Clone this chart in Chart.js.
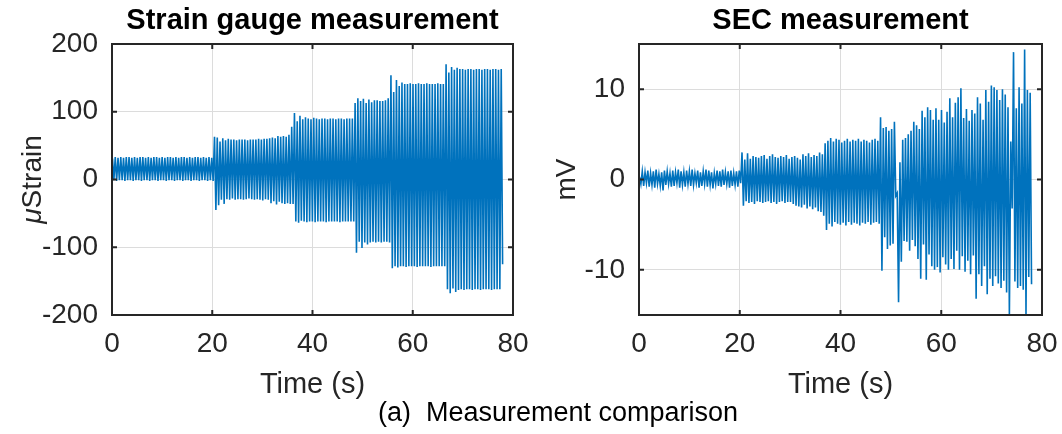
<!DOCTYPE html>
<html>
<head>
<meta charset="utf-8">
<script src="https://cdn.jsdelivr.net/npm/chart.js@4.4.1/dist/chart.umd.min.js"></script>
<style>
    body { margin: 0; background: #fff; width: 1062px; height: 434px; position: relative; overflow: hidden; }
    canvas { position: absolute; top: 0; }
    #strainChart { left: 0; }
    #secChart { left: 530px; }
    #caption {
        position: absolute; left: 558px; top: 397px; transform: translateX(-50%);
        font: 27px 'Liberation Sans', Arial, sans-serif; line-height: 30px;
        white-space: pre; color: #000;
    }
</style>
</head>
<body>
<canvas id="strainChart" width="530" height="434"></canvas>
<canvas id="secChart" width="532" height="434"></canvas>
<div id="caption">(a)  Measurement comparison</div>
<script>
// tick labels
const timeTicks = [0, 20, 40, 60, 80];
const strainTicks = [-200, -100, 0, 100, 200];
const secTicks = [-10, 0, 10];

// one loading cycle every 0.55 s, peak first, trough half a cycle later
const cyclePeriod = 0.55;
const firstCycle = 0.1;

// strain gauge, microstrain, peak / trough of each cycle
const strainPeaks = [
    31, 33, 32, 33, 32, 33, 33, 32, 33, 32, 33, 33, 32, 33, 32, 33, 33, 32, 33, 32,
    33, 33, 32, 33, 32, 33, 33, 32, 33, 32, 33, 33, 32, 33, 32, 33, 32,
    63, 62, 56, 61, 58, 60, 59, 59, 58, 59, 59, 59, 58, 59, 59, 59, 60, 59, 60, 60,
    61, 62, 61, 64, 63, 64, 63, 66, 78,
    98, 86, 94, 89, 92, 90, 89, 91, 90, 89, 90, 90, 89, 90, 90, 89, 90, 90, 89, 90, 90, 90,
    113, 120, 116, 119, 113, 118, 114, 117, 117, 116, 116, 117, 120,
    154, 129, 147, 138, 143, 141, 141, 142, 141, 141, 142, 141, 141, 142, 141, 141, 141, 142, 141, 141,
    170, 158, 166, 162, 165, 163, 163, 162, 163, 163, 162, 163, 163, 162, 163, 163, 162, 163, 163, 162, 163
];
const strainTroughs = [
    -1, -2, -1, -1, -2, -1, -1, -2, -1, -1, -2, -1, -1, -2, -1, -1, -2, -1, -1, -2,
    -1, -1, -2, -1, -1, -2, -1, -1, -2, -1, -1, -2, -1, -1, -2, -1, -2,
    -45, -38, -30, -36, -29, -30, -28, -30, -29, -29, -30, -29, -28, -29, -30, -29, -30, -31, -29, -30,
    -35, -32, -37, -33, -35, -36, -35, -36, -36,
    -62, -64, -61, -62, -63, -62, -62, -63, -62, -62, -62, -63, -62, -62, -62, -62, -63, -62, -62, -62, -62, -62,
    -108, -92, -101, -93, -96, -93, -92, -93, -92, -93, -92, -92, -93,
    -131, -128, -130, -128, -128, -129, -128, -128, -128, -129, -128, -128, -128, -128, -129, -128, -128, -128, -128, -128,
    -162, -168, -161, -166, -163, -162, -163, -162, -162, -163, -162, -162, -163, -162, -162, -162, -163, -162, -162, -162, -125
];

// SEC sensor, mV, peak / trough of each cycle
const secPeaks = [
    0.3, 0.9, 0.8, 1.0, 0.7, 0.9, 1.1, 0.6, 0.8, 1.0, 0.9, 0.7, 1.0, 0.8, 1.1, 0.9, 0.8, 1.0, 0.9, 1.1,
    0.7, 1.0, 0.8, 0.9, 1.1, 1.0, 0.8, 0.7, 1.0, 0.9, 1.1, 0.8, 0.9, 1.0, 0.7, 0.9, 1.0,
    3.0, 2.2, 2.9, 2.3, 2.6, 2.5, 2.4, 2.6, 2.7, 2.3, 2.6, 2.8, 2.5, 2.4, 2.6, 2.5, 2.7, 2.3, 2.5, 2.6,
    2.4, 2.2, 2.8, 2.6, 2.9, 2.5, 2.7, 2.6, 3.0, 2.8,
    4.0, 4.3, 4.6, 4.2, 4.5, 4.4, 4.1, 4.3, 4.5, 4.2, 4.4, 4.3, 4.5, 4.2, 4.4, 4.3, 4.1, 4.4, 4.5, 4.3,
    6.9, 5.7, 5.8, 5.4, 5.6, 6.4, -1.5, 1.9, 4.4, 4.6, 5.0, 5.4, 6.4, 6.0, 5.6, 7.6,
    6.9, 8.0, 7.7, 6.6, 7.9, 6.6, 7.7, 6.3, 7.5, 9.0, 6.9, 8.5, 9.1, 10.1, 6.8, 7.8, 6.5, 7.7, 7.3, 9.1,
    8.4, 6.6, 9.9, 8.6, 10.4, 10.2, 9.9, 8.8, 10.0, 9.4, 8.0, 4.2, 14.1, 7.9, 10.2, 8.4, 14.4, 9.9, 9.6
];
const secTroughs = [
    -0.5, -0.7, -0.4, -0.8, -0.6, -0.9, -0.5, -0.7, -1.2, -0.6, -0.5, -0.8, -0.7, -0.4, -0.9, -0.6, -0.8, -0.5, -0.7, -0.6,
    -0.4, -0.9, -0.7, -0.5, -0.8, -0.6, -1.0, -0.5, -0.7, -0.8, -0.6, -0.5, -0.9, -0.7, -0.6, -0.8, -0.4,
    -2.9, -2.4, -2.6, -2.5, -2.7, -2.4, -2.5, -2.6, -2.5, -2.4, -2.6, -2.5, -2.7, -2.5, -2.4, -2.6, -2.5, -2.5, -2.7, -2.9,
    -3.0, -3.1, -2.8, -3.2, -3.0, -3.3, -3.1, -3.5, -3.6, -4.0,
    -5.6, -4.9, -5.2, -4.7, -4.9, -5.0, -4.8, -5.1, -4.7, -5.0, -4.8, -4.9, -5.1, -4.8, -4.9, -4.7, -5.0, -4.8, -4.7, -4.9,
    -10.1, -6.4, -7.7, -7.3, -7.1, -1.8, -13.6, -9.1, -6.8, -6.9, -7.9, -6.7, -7.4, -8.8, -11.0, -7.2,
    -11.1, -8.3, -9.6, -10.0, -9.7, -10.3, -8.6, -9.4, -10.0, -8.8, -9.9, -7.9, -10.0, -8.5, -10.2, -9.0, -10.5, -8.4, -13.2, -10.5,
    -11.8, -9.6, -12.7, -11.0, -11.8, -10.7, -11.5, -12.0, -11.2, -12.5, -15.1, -3.2, -11.3, -12.0, -11.8, -12.2, -15.0, -10.8, -11.6
];

const FONT = "'Liberation Sans', Arial, Helvetica, sans-serif";
const AXIS_COLOR = '#262626';

function toPoints(peaks, troughs) {
    const pts = [];
    peaks.forEach((p, i) => {
        const t = firstCycle + i * cyclePeriod;
        pts.push({ x: t, y: p });
        pts.push({ x: t + cyclePeriod / 2, y: troughs[i] });
    });
    return pts;
}

// MATLAB style box with inward ticks on all four sides
const boxPlugin = {
    id: 'box',
    afterDatasetsDraw(chart) {
        const { ctx, chartArea: a, scales } = chart;
        const len = 5;
        ctx.save();
        ctx.strokeStyle = AXIS_COLOR;
        ctx.lineWidth = 2;
        ctx.beginPath();
        scales.x.ticks.forEach(t => {
            const px = scales.x.getPixelForValue(t.value);
            ctx.moveTo(px, a.bottom); ctx.lineTo(px, a.bottom - len);
            ctx.moveTo(px, a.top); ctx.lineTo(px, a.top + len);
        });
        scales.y.ticks.forEach(t => {
            const py = scales.y.getPixelForValue(t.value);
            ctx.moveTo(a.left, py); ctx.lineTo(a.left + len, py);
            ctx.moveTo(a.right, py); ctx.lineTo(a.right - len, py);
        });
        ctx.stroke();
        ctx.strokeRect(a.left, a.top, a.right - a.left, a.bottom - a.top);
        ctx.restore();
    }
};

// y label with italic mu, like the TeX label in the figure
const muLabelPlugin = {
    id: 'muLabel',
    afterDraw(chart) {
        const ctx = chart.ctx;
        const a = chart.chartArea;
        ctx.save();
        ctx.translate(33, (a.top + a.bottom) / 2);
        ctx.rotate(-Math.PI / 2);
        ctx.fillStyle = AXIS_COLOR;
        ctx.textBaseline = 'middle';
        ctx.textAlign = 'left';
        ctx.font = 'italic 28px ' + FONT;
        const w1 = ctx.measureText('\u03bc').width;
        ctx.font = '28px ' + FONT;
        const w2 = ctx.measureText('Strain').width;
        let x = -(w1 + w2) / 2;
        ctx.font = 'italic 28px ' + FONT;
        ctx.fillText('\u03bc', x, 0);
        ctx.font = '28px ' + FONT;
        ctx.fillText('Strain', x + w1, 0);
        ctx.restore();
    }
};

function makeChart(id, cfg) {
    const ctx = document.getElementById(id).getContext('2d');
    return new Chart(ctx, {
        type: 'line',
        data: {
            datasets: [{
                data: toPoints(cfg.peaks, cfg.troughs),
                borderColor: '#0072BD',
                borderWidth: 1.6,
                pointRadius: 0,
                tension: 0
            }]
        },
        options: {
            responsive: false,
            animation: false,
            events: [],
            layout: { padding: { left: 0, right: cfg.padRight, top: 0, bottom: 30 } },
            plugins: {
                legend: { display: false },
                tooltip: { enabled: false },
                title: {
                    display: true,
                    text: cfg.title,
                    fullSize: false,
                    color: '#000',
                    font: { family: FONT, size: 29, weight: 'bold' },
                    padding: { top: 3.6, bottom: 5.6 }
                }
            },
            scales: {
                x: {
                    type: 'linear',
                    min: 0,
                    max: 80,
                    afterBuildTicks: s => { s.ticks = timeTicks.map(v => ({ value: v })); },
                    afterFit: s => { s.height = 89; s.paddingLeft = 0; s.paddingRight = 0; },
                    grid: { color: '#dcdcdc', drawTicks: false },
                    border: { display: false },
                    ticks: { color: AXIS_COLOR, font: { family: FONT, size: 28 }, padding: 12, maxRotation: 0 },
                    title: {
                        display: true,
                        text: 'Time (s)',
                        color: AXIS_COLOR,
                        font: { family: FONT, size: 29 },
                        padding: { top: 0, bottom: 1.6 }
                    }
                },
                y: {
                    min: cfg.yMin,
                    max: cfg.yMax,
                    afterBuildTicks: s => { s.ticks = cfg.yTicks.map(v => ({ value: v })); },
                    afterFit: s => { s.width = cfg.yWidth; s.paddingTop = 0; s.paddingBottom = 0; },
                    grid: { color: '#dcdcdc', drawTicks: false },
                    border: { display: false },
                    ticks: { color: AXIS_COLOR, font: { family: FONT, size: 28 }, padding: 14 },
                    title: {
                        display: !!cfg.yTitle,
                        text: cfg.yTitle || '',
                        color: AXIS_COLOR,
                        font: { family: FONT, size: 28 },
                        padding: { top: 20, bottom: 0 }
                    }
                }
            }
        },
        plugins: cfg.extraPlugins
    });
}

makeChart('strainChart', {
    title: 'Strain gauge measurement',
    peaks: strainPeaks,
    troughs: strainTroughs,
    yMin: -200, yMax: 200, yTicks: strainTicks,
    yWidth: 112, padRight: 17,
    extraPlugins: [boxPlugin, muLabelPlugin]
});

makeChart('secChart', {
    title: 'SEC measurement',
    peaks: secPeaks,
    troughs: secTroughs,
    yMin: -15, yMax: 15, yTicks: secTicks,
    yTitle: 'mV',
    yWidth: 109, padRight: 20,
    extraPlugins: [boxPlugin]
});
</script>
</body>
</html>
